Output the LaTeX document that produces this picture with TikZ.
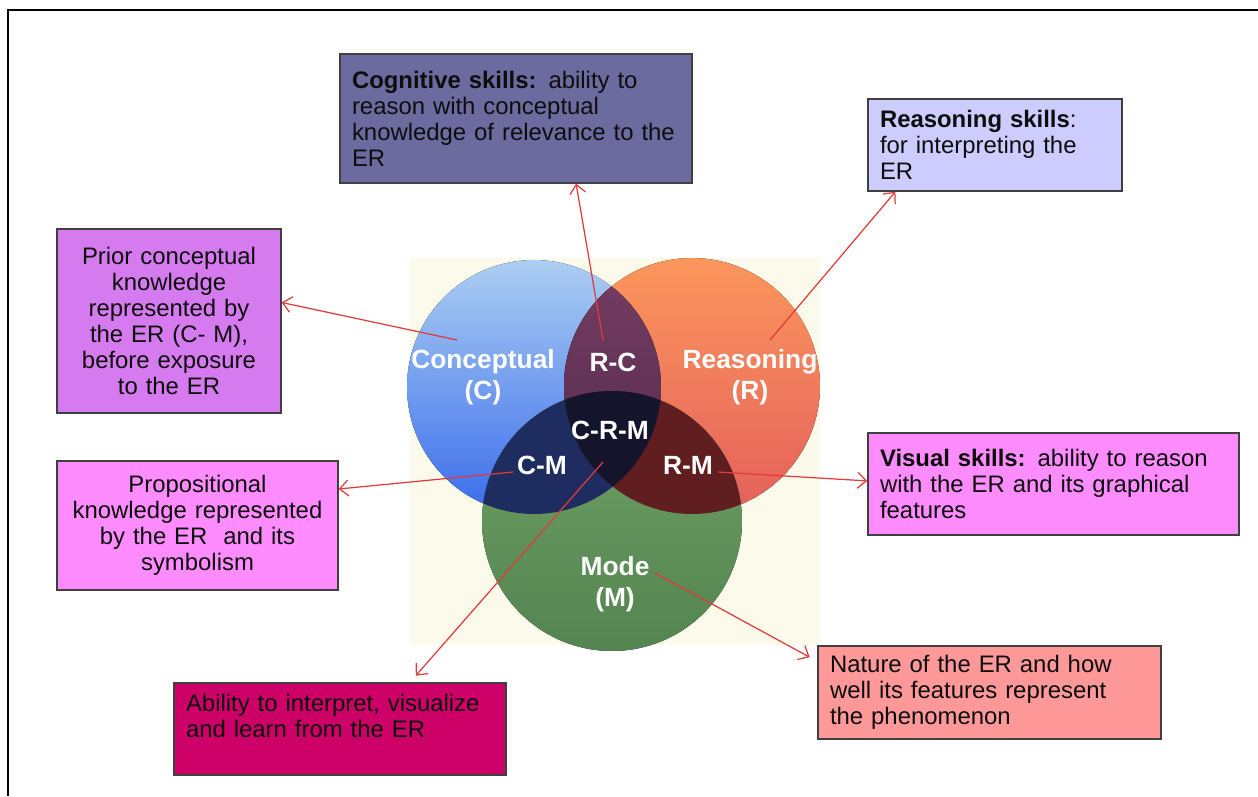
\documentclass[tikz,border=0pt]{standalone}
\usepackage{fontspec}
\setmainfont{Liberation Sans}
\usetikzlibrary{arrows.meta,calc}

\definecolor{cogfill}{RGB}{107,107,159}
\definecolor{reasfill}{RGB}{204,204,255}
\definecolor{priorfill}{RGB}{214,122,240}
\definecolor{propfill}{RGB}{255,140,255}
\definecolor{abilfill}{RGB}{204,0,102}
\definecolor{natfill}{RGB}{255,153,153}
\definecolor{vennbg}{RGB}{252,250,234}
\definecolor{blueT}{RGB}{172,206,242}
\definecolor{blueB}{RGB}{58,108,236}
\definecolor{redT}{RGB}{252,150,92}
\definecolor{redB}{RGB}{228,96,92}
\definecolor{grnT}{RGB}{112,162,102}
\definecolor{grnB}{RGB}{84,132,80}
\definecolor{rcT}{RGB}{118,62,98}
\definecolor{rcB}{RGB}{82,40,78}
\definecolor{cmdark}{RGB}{30,44,96}
\definecolor{rmdark}{RGB}{96,30,32}
\definecolor{crmdark}{RGB}{20,20,44}
\definecolor{arrred}{RGB}{226,58,58}

\begin{document}
\begin{tikzpicture}[
    x=0.02cm, y=-0.02cm,
    infobox/.style={rectangle, draw=black!75, line width=0.8pt, inner xsep=0.24cm, inner ysep=0pt, font=\fontsize{13.6}{14.8}\selectfont, text=black!95},
    vennlbl/.style={text=white, font=\fontsize{15}{17.6}\selectfont\bfseries, align=center},
    erarr/.style={->, >={Straight Barb[length=5pt,width=9pt]}, draw=arrred, line width=0.7pt}
]
\useasboundingbox (0,0) rectangle (1258,796);

% slide frame
\draw[line width=1.2pt] (8,796) -- (8,10) -- (1258,10);

% Venn diagram
\fill[vennbg] (410,258) rectangle (820,645);
\coordinate (cC) at (534,387);
\coordinate (cR) at (692,386);
\coordinate (cM) at (612,521);
\fill[top color=blueT, bottom color=blueB] (cC) circle (2.54cm);
\fill[top color=redT, bottom color=redB] (cR) circle (2.56cm);
\fill[top color=grnT, bottom color=grnB] (cM) circle (2.6cm);
\begin{scope}
  \clip (cC) circle (2.54cm);
  \fill[top color=rcT, bottom color=rcB] (cR) circle (2.56cm);
\end{scope}
\begin{scope}
  \clip (cC) circle (2.54cm);
  \fill[cmdark] (cM) circle (2.6cm);
\end{scope}
\begin{scope}
  \clip (cR) circle (2.56cm);
  \fill[rmdark] (cM) circle (2.6cm);
\end{scope}
\begin{scope}
  \clip (cC) circle (2.54cm);
  \clip (cR) circle (2.56cm);
  \fill[crmdark] (cM) circle (2.6cm);
\end{scope}

\node[vennlbl] (conc) at (483,377) {Conceptual\\(C)};
\node[vennlbl] (rc)   at (613,362) {R-C};
\node[vennlbl] (reas) at (750,377) {Reasoning\\(R)};
\node[vennlbl] (crm)  at (610,430) {C-R-M};
\node[vennlbl] (cm)   at (542,465) {C-M};
\node[vennlbl] (rm)   at (688,465) {R-M};
\node[vennlbl] (mode) at (615,584) {Mode\\(M)};

% Boxes
\node[infobox, fill=cogfill, minimum width=7.04cm, minimum height=2.58cm, text width=6.56cm, align=left] (cog) at (516,118.5)
  {\textbf{Cognitive skills:} ability to\\reason with conceptual\\knowledge of relevance to the\\ER};
\node[infobox, fill=reasfill, minimum width=5.08cm, minimum height=1.84cm, text width=4.6cm, align=left] (rskill) at (995,145)
  {\textbf{Reasoning skills}:\\for interpreting the\\ER};
\node[infobox, fill=priorfill, minimum width=4.48cm, minimum height=3.68cm, text width=4.0cm, align=center] (prior) at (169,321)
  {Prior conceptual\\knowledge\\represented by\\the ER (C- M),\\before exposure\\to the ER};
\node[infobox, fill=propfill, minimum width=5.62cm, minimum height=2.58cm, text width=5.14cm, align=center] (prop) at (197.5,525.5)
  {Propositional\\knowledge represented\\by the ER~ and its\\symbolism};
\node[infobox, fill=propfill, minimum width=7.42cm, minimum height=2.04cm, text width=6.94cm, align=left] (vis) at (1053.5,484)
  {\textbf{Visual skills:} ability to reason\\with the ER and its graphical\\features};
\node[infobox, fill=abilfill, minimum width=6.64cm, minimum height=1.84cm, text width=6.16cm, align=left] (abil) at (340,729)
  {Ability to interpret, visualize\\and learn from the ER\\~};
\node[infobox, fill=natfill, minimum width=6.86cm, minimum height=1.86cm, text width=6.38cm, align=left] (nat) at (989.5,692.5)
  {Nature of the ER and how\\well its features represent\\the phenomenon};

% Connectors
\coordinate (rcpt)  at (603,340);
\coordinate (rpt)   at (770,340);
\coordinate (cpt)   at (457,340);
\coordinate (cmpt)  at (513,472);
\coordinate (rmpt)  at (718,472);
\coordinate (crmpt) at (603,462);
\coordinate (mpt)   at (655,573);
\draw[erarr] (rcpt)  -- ($(cog.south west)!0.67!(cog.south east)$);
\draw[erarr] (rpt)   -- ($(rskill.south west)!0.11!(rskill.south east)$);
\draw[erarr] (cpt)   -- ($(prior.north east)!0.40!(prior.south east)$);
\draw[erarr] (cmpt)  -- ($(prop.north east)!0.22!(prop.south east)$);
\draw[erarr] (rmpt)  -- ($(vis.north west)!0.47!(vis.south west)$);
\draw[erarr, shorten >=5pt] (crmpt) -- ($(abil.north west)!0.71!(abil.north east)$);
\draw[erarr, shorten >=5pt] (mpt)   -- ($(nat.north west)!0.17!(nat.south west)$);

\end{tikzpicture}
\end{document}
